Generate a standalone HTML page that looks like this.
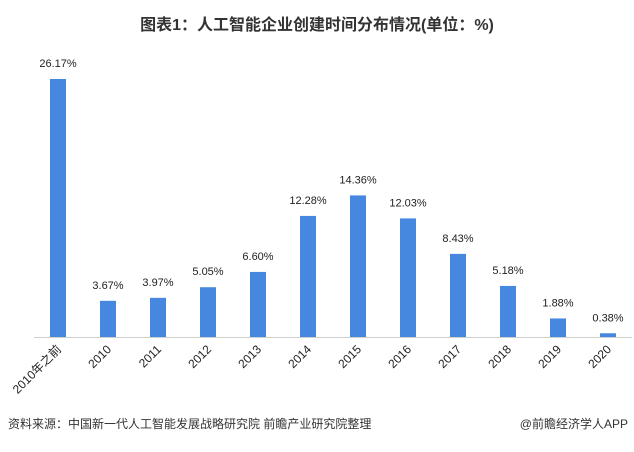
<!DOCTYPE html>
<html><head><meta charset="utf-8"><style>
body{margin:0;background:#fff;width:634px;height:447px;overflow:hidden;font-family:"Liberation Sans","Noto Sans CJK SC",sans-serif;}
</style></head><body>
<svg width="634" height="447" xmlns="http://www.w3.org/2000/svg" font-family="Liberation Sans, Noto Sans CJK SC, sans-serif">
<text x="317" y="30" text-anchor="middle" font-size="16" font-weight="bold" fill="#333">图表1：人工智能企业创建时间分布情况(单位：%)</text>
<line x1="34" y1="337.5" x2="632" y2="337.5" stroke="#d0d0d0" stroke-width="1"/>
<g fill="#4688e0" id="bars"></g>
<g font-size="11" fill="#222" text-anchor="middle" id="vals"></g>
<g font-size="12" fill="#222" text-anchor="end" id="yrs"></g>
<text x="8" y="428" font-size="12" fill="#333">资料来源：中国新一代人工智能发展战略研究院 前瞻产业研究院整理</text>
<text x="628" y="428" font-size="12" fill="#333" text-anchor="end">@前瞻经济学人APP</text>
<script>
(function(){
var v=[26.17,3.67,3.97,5.05,6.60,12.28,14.36,12.03,8.43,5.18,1.88,0.38];
var l=["2010年之前","2010","2011","2012","2013","2014","2015","2016","2017","2018","2019","2020"];
var ns="http://www.w3.org/2000/svg",b=document.getElementById("bars"),t=document.getElementById("vals"),y=document.getElementById("yrs");
for(var i=0;i<12;i++){var cx=58+50*i,h=v[i]*9.86,yt=337-h;
var r=document.createElementNS(ns,"rect");r.setAttribute("x",cx-8);r.setAttribute("y",yt);r.setAttribute("width",16);r.setAttribute("height",h);b.appendChild(r);
var s=document.createElementNS(ns,"text");s.setAttribute("x",cx);s.setAttribute("y",yt-12);s.textContent=v[i].toFixed(2)+"%";t.appendChild(s);
var a=document.createElementNS(ns,"text");a.setAttribute("transform","translate("+(cx+4)+",350) rotate(-45)");a.textContent=l[i];y.appendChild(a);}
})();
</script>
</svg>
</body></html>
